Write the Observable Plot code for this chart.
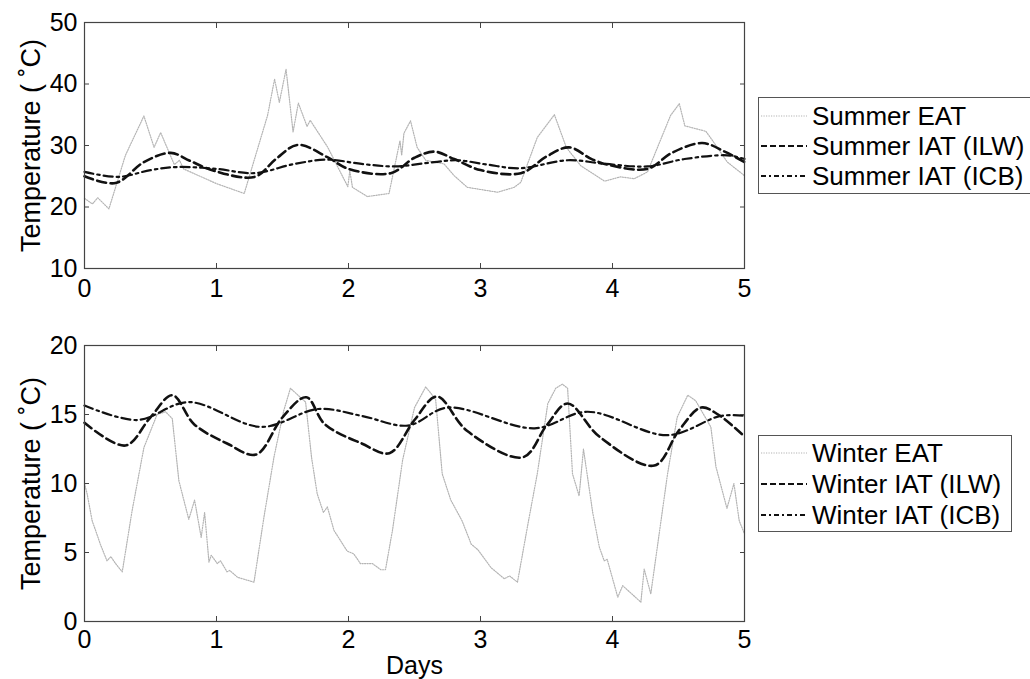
<!DOCTYPE html>
<html><head><meta charset="utf-8">
<script src="https://cdn.jsdelivr.net/npm/d3@7"></script>
<script src="https://cdn.jsdelivr.net/npm/@observablehq/plot@0.6"></script>
<style>
body{margin:0;background:#fff;}
#wrap{position:relative;width:1030px;height:679px;font-family:"Liberation Sans",Arial,sans-serif;overflow:hidden;}
.panel{position:absolute;left:0;}
.legend{position:absolute;background:#fff;border:1.3px solid #555;box-sizing:border-box;font-size:26px;color:#000;}
.row{position:absolute;left:0;height:30px;display:flex;align-items:center;white-space:nowrap;}
.row svg{margin-left:2px;margin-right:5px;}
</style></head>
<body><div id="wrap"></div>
<script>
// ---------- data ----------
const xTicks = [0, 1, 2, 3, 4, 5];
const summerYTicks = [10, 20, 30, 40, 50];
const winterYTicks = [0, 5, 10, 15, 20];
const yLabel = "Temperature ( ˚C)";
const xLabel = "Days";

const summerEatDay = [0,0.06,0.10,0.185,0.31,0.45,0.527,0.577,0.68,0.72,0.75,1.0,1.21,1.387,1.44,1.476,1.527,1.58,1.62,1.686,1.71,1.843,1.995,2.01,2.03,2.143,2.307,2.39,2.403,2.42,2.47,2.52,2.585,2.724,2.8,2.9,3.13,3.255,3.305,3.43,3.56,3.65,3.76,3.94,4.06,4.165,4.265,4.44,4.506,4.548,4.708,4.758,4.87,5.0];
const summerEatT   = [21.4,20.5,21.5,19.7,28.4,34.8,29.7,32.1,26.9,27.6,26.2,23.8,22.2,34.9,40.8,37.0,42.4,32.2,36.9,33.1,34.1,29.7,23.3,25.9,23.2,21.7,22.2,30.8,28.4,32.0,34.0,29.7,27.6,27.0,25.1,23.2,22.4,23.2,24.0,31.3,35.0,29.7,26.7,24.2,24.9,24.6,25.7,34.9,36.8,33.2,32.3,30.8,27.3,25.1];

const summerIlwDay = [0,0.235,0.45,0.653,0.8,0.98,1.29,1.45,1.615,1.84,2.0,2.32,2.5,2.65,2.8,3.0,3.306,3.5,3.67,3.85,4.0,4.265,4.45,4.68,4.85,5.0];
const summerIlwT   = [25.0,23.9,27.3,28.8,27.5,25.9,24.9,27.8,30.1,28.1,26.2,25.5,28.0,29.0,27.8,26.0,25.5,28.2,29.7,27.7,26.7,26.2,28.8,30.4,29.0,27.3];

const summerIcbDay = [0,0.26,0.5,0.70,1.0,1.29,1.59,1.84,2.1,2.35,2.65,2.825,3.05,3.3,3.66,3.95,4.265,4.545,4.87,5.0];
const summerIcbT   = [25.7,24.9,26.0,26.5,26.2,25.5,27.0,27.7,27.0,26.6,27.3,27.6,26.9,26.3,27.6,27.0,26.6,27.8,28.4,27.8];

const winterEatDay = [0,0.02,0.058,0.084,0.12,0.17,0.2,0.235,0.286,0.36,0.45,0.55,0.614,0.665,0.715,0.79,0.834,0.884,0.91,0.943,0.96,1.006,1.03,1.08,1.1,1.16,1.284,1.36,1.435,1.51,1.56,1.675,1.72,1.763,1.81,1.84,1.89,1.99,2.04,2.09,2.18,2.245,2.28,2.333,2.41,2.5,2.585,2.66,2.71,2.775,2.86,2.93,2.98,3.08,3.18,3.22,3.28,3.36,3.43,3.51,3.57,3.62,3.66,3.697,3.747,3.78,3.85,3.9,3.937,3.96,4.04,4.077,4.215,4.24,4.29,4.417,4.49,4.57,4.63,4.745,4.784,4.867,4.92,4.96,5.0];
const winterEatT   = [10.0,9.25,7.3,6.6,5.6,4.4,4.7,4.2,3.6,8.0,12.6,15.0,15.2,14.7,10.2,7.4,8.8,6.1,7.9,4.3,4.8,4.2,4.4,3.6,3.7,3.2,2.85,7.6,11.9,15.3,16.9,15.9,11.9,9.25,7.9,8.3,6.6,5.1,4.9,4.2,4.2,3.75,3.75,6.6,11.7,15.5,17.0,16.1,10.7,8.8,7.3,5.6,5.2,3.9,3.1,3.3,2.85,7.1,10.7,15.8,16.9,17.2,16.9,10.7,9.1,12.5,7.9,5.4,4.4,4.5,1.76,2.6,1.4,3.8,2.0,10.7,14.8,16.4,16.0,14.1,11.2,8.2,10.0,7.3,6.35];

const winterIlwDay = [0,0.31,0.5,0.666,0.83,1.08,1.30,1.5,1.68,1.82,2.1,2.31,2.5,2.67,2.9,3.32,3.5,3.66,3.9,4.317,4.5,4.67,4.8,5.0];
const winterIlwT   = [14.4,12.75,14.8,16.4,14.3,12.9,12.1,14.8,16.25,14.3,12.9,12.2,14.6,16.3,13.8,11.9,14.2,15.8,13.4,11.3,13.8,15.5,15.0,13.4];

const winterIcbDay = [0,0.4,0.79,1.34,1.77,2.1,2.45,2.75,3.41,3.81,4.417,4.82,5.0];
const winterIcbT   = [15.65,14.6,15.9,14.1,15.4,14.9,14.2,15.5,14.0,15.2,13.5,14.9,14.9];

const summerNames = ["Summer EAT", "Summer IAT (ILW)", "Summer IAT (ICB)"];
const winterNames = ["Winter EAT", "Winter IAT (ILW)", "Winter IAT (ICB)"];

// ---------- styles ----------
const styles = [
  {stroke: "#b4b4b4", strokeWidth: 1.2, strokeDasharray: "1.2,1.3", curve: "linear"},
  {stroke: "#111", strokeWidth: 2.6, strokeDasharray: "9,4.5", curve: "catmull-rom"},
  {stroke: "#111", strokeWidth: 2.2, strokeDasharray: "9,4,2.5,4", curve: "catmull-rom"}
];
const font = '"Liberation Sans", Arial, sans-serif';
const zip = (xs, ys) => xs.map((x, i) => ({x, y: ys[i]}));

function panel({series, yDomain, yTicks, height, marginTop, marginBottom, padX, xLabelText}) {
  const marks = [];
  series.forEach((s, i) => marks.push(Plot.line(s, {x: "x", y: "y", ...styles[i]})));
  marks.push(
    Plot.frame({stroke: "#444", strokeWidth: 1.2}),
    Plot.axisX({anchor: "bottom", ticks: xTicks, tickSize: 0, tickPadding: padX, tickFormat: d => String(d), label: null, fontSize: 25}),
    Plot.axisX({anchor: "bottom", ticks: xTicks, tickSize: -5, fill: "none", label: null, stroke: "#444"}),
    Plot.axisX({anchor: "top", ticks: xTicks, tickSize: -5, fill: "none", label: null, stroke: "#444"}),
    Plot.axisY({anchor: "left", ticks: yTicks, tickSize: 0, tickPadding: 7, tickFormat: d => String(d), label: null, fontSize: 25}),
    Plot.axisY({anchor: "left", ticks: yTicks, tickSize: -5, fill: "none", label: null, stroke: "#444"}),
    Plot.axisY({anchor: "right", ticks: yTicks, tickSize: -5, fill: "none", label: null, stroke: "#444"}),
    Plot.text([yLabel], {frameAnchor: "left", rotate: -90, dx: -53, text: d => d, fontSize: 27, textAnchor: "middle", lineAnchor: "middle", fill: "#000"})
  );
  if (xLabelText) marks.push(Plot.text([xLabelText], {frameAnchor: "bottom", dy: 35, text: d => d, fontSize: 25, textAnchor: "middle", lineAnchor: "top", fill: "#000"}));
  return Plot.plot({
    width: 1030, height,
    marginLeft: 84, marginRight: 286, marginTop, marginBottom,
    x: {domain: [0, 5]},
    y: {domain: yDomain},
    style: {fontFamily: font, fontSize: "25px", color: "#000", background: "transparent", overflow: "visible"},
    marks
  });
}

const wrap = document.getElementById("wrap");

const topPanel = panel({
  series: [zip(summerEatDay, summerEatT), zip(summerIlwDay, summerIlwT), zip(summerIcbDay, summerIcbT)],
  yDomain: [10, 50], yTicks: summerYTicks, height: 300, marginTop: 22, marginBottom: 32, padX: 11
});
topPanel.classList.add("panel"); topPanel.style.top = "0px";
wrap.appendChild(topPanel);

const bottomPanel = panel({
  series: [zip(winterEatDay, winterEatT), zip(winterIlwDay, winterIlwT), zip(winterIcbDay, winterIcbT)],
  yDomain: [0, 20], yTicks: winterYTicks, height: 379, marginTop: 45, marginBottom: 58, padX: 9, xLabelText: xLabel
});
bottomPanel.classList.add("panel"); bottomPanel.style.top = "300px";
wrap.appendChild(bottomPanel);

// ---------- legends ----------
function legend(names, box, rowTops) {
  const div = document.createElement("div");
  div.className = "legend";
  Object.assign(div.style, {left: box.left + "px", top: box.top + "px", width: box.width + "px", height: box.height + "px"});
  names.forEach((name, i) => {
    const row = document.createElement("div");
    row.className = "row";
    row.style.top = rowTops[i] + "px";
    const s = styles[i];
    row.innerHTML = `<svg width="46" height="30"><line x1="0" x2="46" y1="15" y2="15" stroke="${s.stroke}" stroke-width="${Math.min(s.strokeWidth, 2)}" stroke-dasharray="${i === 0 ? "1.2,1.3" : i === 1 ? "6,3" : "5,3,2,3"}"/></svg><span>${name}</span>`;
    div.appendChild(row);
  });
  wrap.appendChild(div);
}
legend(summerNames, {left: 758, top: 97, width: 274, height: 97}, [3, 33, 63]);
legend(winterNames, {left: 758, top: 435, width: 254, height: 97}, [2, 33, 64]);
</script>
</body></html>
